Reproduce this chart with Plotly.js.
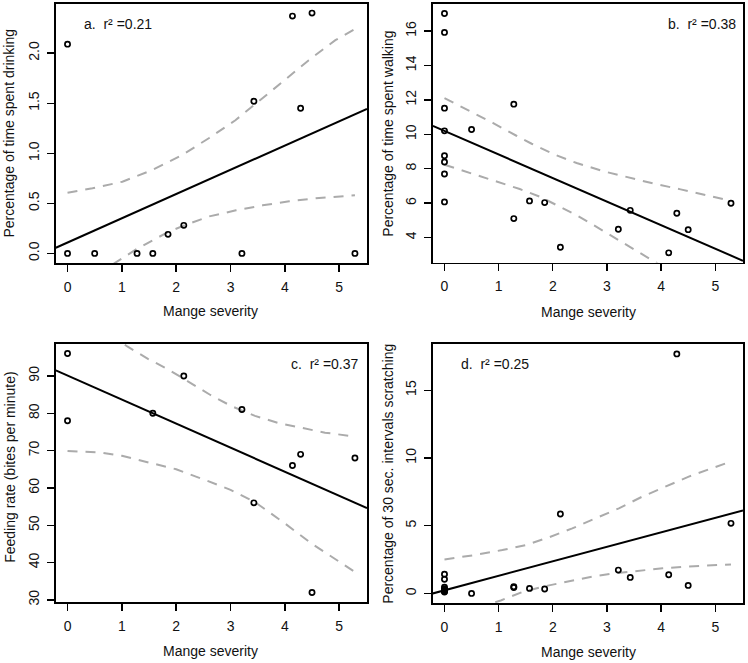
<!DOCTYPE html>
<html>
<head>
<meta charset="utf-8">
<script src="https://cdn.plot.ly/plotly-3.0.1.min.js"></script>
<style>
  html, body { margin: 0; padding: 0; background: #fff; }
  #chart { width: 748px; height: 663px; }
</style>
</head>
<body>
<div id="chart"></div>
<script>
// ---------------- data ----------------
// Panel a: drinking
const severityA = [0, 0, 0.5, 1.28, 1.57, 1.85, 2.14, 3.21, 3.43, 4.14, 4.29, 4.5, 5.29];
const drinking  = [2.09, 0, 0, 0, 0, 0.19, 0.28, 0, 1.52, 2.37, 1.45, 2.4, 0];
const fitAx = [-0.215, 5.512];
const fitAy = [0.056, 1.443];
const upperAx = [0, 0.46, 1.01, 1.56, 2.11, 2.6, 3.09, 3.46, 3.95, 4.44, 4.93, 5.29];
const upperAy = [0.606, 0.65, 0.716, 0.833, 0.983, 1.15, 1.33, 1.49, 1.71, 1.93, 2.13, 2.24];
const lowerAx = [0, 0.5, 0.86, 1.29, 1.84, 2.15, 2.61, 3.10, 3.59, 4.08, 4.57, 5.29];
const lowerAy = [-0.40, -0.21, -0.10, 0.05, 0.21, 0.28, 0.37, 0.43, 0.48, 0.52, 0.55, 0.58];

// Panel b: walking
const severityB = [0, 0, 0, 0, 0, 0, 0, 0, 0.5, 1.28, 1.28, 1.57, 1.85, 2.14, 3.21, 3.43, 4.14, 4.29, 4.5, 5.29];
const walking   = [17.02, 15.92, 11.52, 10.2, 8.76, 8.39, 7.69, 6.07, 10.28, 11.75, 5.1, 6.13, 6.03, 3.44, 4.48, 5.58, 3.11, 5.41, 4.46, 5.99];
const fitBx = [-0.215, 5.512];
const fitBy = [10.49, 2.65];
const upperBx = [0, 0.47, 0.9, 1.32, 1.61, 2.04, 2.44, 2.95, 3.44, 3.87, 4.36, 4.85, 5.29];
const upperBy = [12.10, 11.36, 10.65, 9.93, 9.45, 8.81, 8.33, 7.84, 7.46, 7.13, 6.80, 6.45, 6.13];
const lowerBx = [0, 0.48, 0.96, 1.39, 1.77, 2.1, 2.44, 2.74, 3.11, 3.47, 3.85, 4.3];
const lowerBy = [8.23, 7.75, 7.28, 6.82, 6.36, 5.85, 5.3, 4.75, 4.05, 3.35, 2.65, 1.8];

// Panel c: feeding rate
const severityC = [0, 0, 1.57, 2.14, 3.21, 3.43, 4.14, 4.29, 4.5, 5.29];
const feeding   = [96, 78, 80, 90, 81, 56, 66, 69, 32, 68];
const fitCx = [-0.215, 5.512];
const fitCy = [91.5, 54.6];
const upperCx = [0, 0.5, 1.10, 1.48, 1.87, 2.23, 2.63, 3.02, 3.45, 3.88, 4.31, 4.74, 5.17, 5.29];
const upperCy = [110, 104, 97.9, 94.6, 91.6, 88.5, 84.9, 81.9, 79.3, 77.4, 76.0, 74.8, 74.0, 73.9];
const lowerCx = [0, 0.6, 1.0, 1.52, 2.0, 2.5, 3.0, 3.45, 4.0, 4.5, 5.29];
const lowerCy = [69.9, 69.5, 68.6, 66.8, 65.0, 62.3, 59.5, 56.2, 50.5, 45.0, 37.5];

// Panel d: scratching
const severityD = [0, 0, 0, 0, 0, 0, 0, 0, 0.5, 1.28, 1.28, 1.57, 1.85, 2.14, 3.21, 3.43, 4.14, 4.29, 4.5, 5.29];
const scratching = [1.42, 1.05, 0.45, 0.35, 0.25, 0.2, 0.15, 0.1, 0, 0.5, 0.44, 0.37, 0.32, 5.86, 1.72, 1.18, 1.38, 17.68, 0.59, 5.17];
const fitDx = [-0.215, 5.512];
const fitDy = [0.0, 6.13];
const upperDx = [0, 0.52, 1.07, 1.5, 1.93, 2.36, 2.79, 3.22, 3.65, 4.08, 4.51, 4.94, 5.29];
const upperDy = [2.51, 2.81, 3.20, 3.57, 4.14, 4.80, 5.54, 6.28, 7.14, 7.88, 8.62, 9.24, 9.73];
const lowerDx = [0, 0.5, 1.04, 1.45, 1.88, 2.31, 2.76, 3.17, 3.6, 4.03, 4.44, 4.91, 5.29];
const lowerDy = [-2.0, -1.2, -0.52, 0.12, 0.55, 0.92, 1.27, 1.5, 1.7, 1.85, 1.98, 2.07, 2.14];

// ticks
const xTicks = [0, 1, 2, 3, 4, 5];
const xTickText = ['0', '1', '2', '3', '4', '5'];
const yTicksA = [0, 0.5, 1, 1.5, 2];
const yTickTextA = ['0.0', '0.5', '1.0', '1.5', '2.0'];
const yTicksB = [4, 6, 8, 10, 12, 14, 16];
const yTickTextB = ['4', '6', '8', '10', '12', '14', '16'];
const yTicksC = [30, 40, 50, 60, 70, 80, 90];
const yTickTextC = ['30', '40', '50', '60', '70', '80', '90'];
const yTicksD = [0, 5, 10, 15];
const yTickTextD = ['0', '5', '10', '15'];

// text
const xTitle = 'Mange severity';
const yTitles = ['Percentage of time spent drinking', 'Percentage of time spent walking',
                 'Feeding rate (bites per minute)', 'Percentage of 30 sec. intervals scratching'];
const panelLabels = ['a.\u00a0 r\u00b2 =0.21', 'b.\u00a0 r\u00b2 =0.38',
                     'c.\u00a0 r\u00b2 =0.37', 'd.\u00a0 r\u00b2 =0.25'];

// ---------------- layout / drawing ----------------
const W = 748, H = 663;
const FONT = 'Arial, "Liberation Sans", Helvetica, sans-serif';
const FS = 14;
const TXT = '#111111';
const px = (a, b) => [a / W, b / W];
const py = (top, bottom) => [1 - bottom / H, 1 - top / H];

const panels = [
  {sx: severityA, sy: drinking, fx: fitAx, fy: fitAy, ux: upperAx, uy: upperAy, lx: lowerAx, ly: lowerAy,
   dom: [56, 367, 3.5, 263], yr: [-0.096, 2.496], yt: yTicksA, ytt: yTickTextA},
  {sx: severityB, sy: walking, fx: fitBx, fy: fitBy, ux: upperBx, uy: upperBy, lx: lowerBx, ly: lowerBy,
   dom: [433, 743, 3.5, 262.5], yr: [2.55, 17.6], yt: yTicksB, ytt: yTickTextB},
  {sx: severityC, sy: feeding, fx: fitCx, fy: fitCy, ux: upperCx, uy: upperCy, lx: lowerCx, ly: lowerCy,
   dom: [56, 367, 344, 602], yr: [29.44, 98.56], yt: yTicksC, ytt: yTickTextC},
  {sx: severityD, sy: scratching, fx: fitDx, fy: fitDy, ux: upperDx, uy: upperDy, lx: lowerDx, ly: lowerDy,
   dom: [433, 743, 344, 603], yr: [-0.708, 18.41], yt: yTicksD, ytt: yTickTextD}
];

const traces = [];
const layout = {
  width: W, height: H,
  margin: {l: 0, r: 0, t: 0, b: 0, pad: 0},
  paper_bgcolor: '#ffffff', plot_bgcolor: '#ffffff',
  showlegend: false,
  font: {family: FONT, size: FS, color: TXT},
  annotations: []
};

const xTitlePos = [[210.8, 310.7], [588.7, 311.5], [210.8, 650.7], [588.7, 651.5]];
const yTitlePos = [[9.3, 133.3], [387.7, 134], [9.3, 467.5], [387.7, 474]];
const labelPos = [[81.5, 24.5, 'left'], [737.5, 24.5, 'right'], [360.5, 364, 'right'], [459, 364, 'left']];

panels.forEach((p, i) => {
  const n = i === 0 ? '' : String(i + 1);
  const xa = 'x' + n, ya = 'y' + n;
  // bands
  traces.push({x: p.ux, y: p.uy, xaxis: xa, yaxis: ya, type: 'scatter', mode: 'lines',
               line: {color: '#ababab', width: 2, dash: '10px,8px'}, hoverinfo: 'skip'});
  traces.push({x: p.lx, y: p.ly, xaxis: xa, yaxis: ya, type: 'scatter', mode: 'lines',
               line: {color: '#ababab', width: 2, dash: '10px,8px'}, hoverinfo: 'skip'});
  // fitted line
  traces.push({x: p.fx, y: p.fy, xaxis: xa, yaxis: ya, type: 'scatter', mode: 'lines',
               line: {color: '#000000', width: 2}, hoverinfo: 'skip'});
  // points
  traces.push({x: p.sx, y: p.sy, xaxis: xa, yaxis: ya, type: 'scatter', mode: 'markers',
               marker: {symbol: 'circle-open', size: 5.2, color: '#000000', line: {width: 1.7, color: '#000000'}}});

  const axCommon = {
    showgrid: false, zeroline: false, showline: true, mirror: true,
    linecolor: '#000000', linewidth: 1.8,
    ticks: 'outside', ticklen: 7, tickwidth: 1.4, tickcolor: '#000000',
    tickfont: {family: FONT, size: FS, color: TXT},
    fixedrange: true, automargin: false
  };
  layout['xaxis' + n] = Object.assign({}, axCommon, {
    domain: px(p.dom[0], p.dom[1]), anchor: ya,
    range: [-0.212, 5.512], tickmode: 'array', tickvals: xTicks, ticktext: xTickText,
    ticklabelstandoff: 3
  });
  layout['yaxis' + n] = Object.assign({}, axCommon, {
    domain: py(p.dom[2], p.dom[3]), anchor: xa,
    range: p.yr, tickmode: 'array', tickvals: p.yt, ticktext: p.ytt,
    tickangle: -90, ticklabelstandoff: 3
  });

  layout.annotations.push({
    xref: 'paper', yref: 'paper', x: xTitlePos[i][0] / W, y: 1 - xTitlePos[i][1] / H,
    xanchor: 'center', yanchor: 'middle', showarrow: false, text: xTitle,
    font: {family: FONT, size: FS, color: TXT}
  });
  layout.annotations.push({
    xref: 'paper', yref: 'paper', x: yTitlePos[i][0] / W, y: 1 - yTitlePos[i][1] / H,
    xanchor: 'center', yanchor: 'middle', showarrow: false, text: yTitles[i], textangle: -90,
    font: {family: FONT, size: FS, color: TXT}
  });
  layout.annotations.push({
    xref: 'paper', yref: 'paper', x: labelPos[i][0] / W, y: 1 - labelPos[i][1] / H,
    xanchor: labelPos[i][2], yanchor: 'middle', showarrow: false, text: panelLabels[i],
    font: {family: FONT, size: FS, color: TXT}
  });
});

Plotly.newPlot('chart', traces, layout, {displayModeBar: false, staticPlot: true});
</script>
</body>
</html>
